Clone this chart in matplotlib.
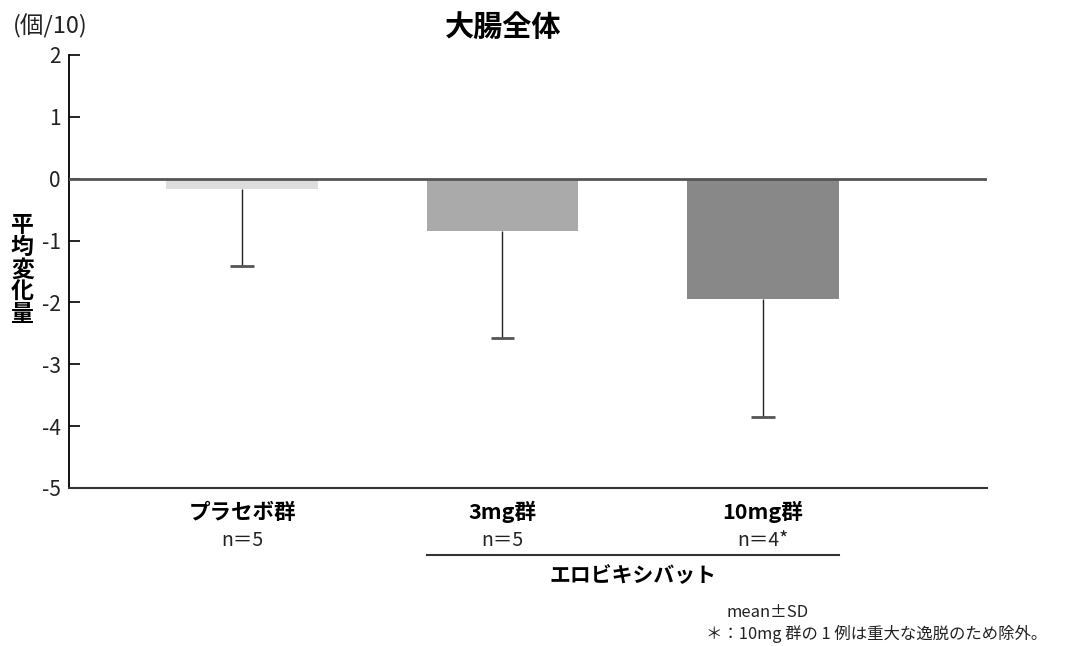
import matplotlib.pyplot as plt

plt.rcParams['font.family'] = ['Noto Sans CJK JP', 'DejaVu Sans']

groups = ['プラセボ群', '3mg群', '10mg群']
n_labels = ['n＝5', 'n＝5', 'n＝4*']
means = [-0.16, -0.84, -1.94]
sds = [1.25, 1.73, 1.91]
colors = ['#dddddd', '#aaaaaa', '#888888']
yticks = [2, 1, 0, -1, -2, -3, -4, -5]

fig = plt.figure(figsize=(10.68, 6.46), dpi=100)
ax = fig.add_axes([0.0646, 0.2446, 0.8596, 0.6703])

x = list(range(len(groups)))
ax.bar(x, means, width=0.58, color=colors, zorder=2)
# SD drawn only below the bar, cap only at the lower end
lower = [m - s for m, s in zip(means, sds)]
ax.vlines(x, lower, means, color='#222222', lw=1, zorder=3)
ax.hlines(lower, [i - 0.046 for i in x], [i + 0.046 for i in x],
          color='#555555', lw=2, zorder=3)
ax.axhline(0, color='#555555', lw=2, zorder=4)

ax.set_xlim(-0.664, 2.86)
ax.set_ylim(-5, 2)
ax.set_yticks(yticks)
ax.set_yticklabels([str(v) for v in yticks], fontsize=15, color='#222222')
ax.tick_params(axis='y', direction='in', length=8, width=1.2, pad=6)
ax.set_xticks([])
for s in ['top', 'right']:
    ax.spines[s].set_visible(False)
ax.spines['left'].set_linewidth(1.3)
ax.spines['bottom'].set_linewidth(1.5)
ax.spines['bottom'].set_color('#333333')

# group labels
for i, (g, n) in enumerate(zip(groups, n_labels)):
    ax.text(i, -5.39, g, ha='center', va='center', fontsize=15.5,
            fontweight='bold', clip_on=False)
    ax.text(i, -5.85, n, ha='center', va='center', fontsize=14,
            color='#222222', clip_on=False)

# drug bracket
ax.plot([1 - 0.29, 2 + 0.29], [-6.09, -6.09], color='#333333', lw=1.5,
        clip_on=False)
ax.text(1.5, -6.42, 'エロビキシバット', ha='center', va='center', fontsize=15,
        fontweight='bold', clip_on=False)

fig.text(0.471, 0.957, '大腸全体', ha='center', va='center', fontsize=21,
         fontweight='bold')
fig.text(0.012, 0.96, '(個/10)', ha='left', va='center', fontsize=17,
         color='#222222')
fig.text(0.021, 0.582, '平\n均\n変\n化\n量', ha='center', va='center',
         fontsize=16.5, fontweight='bold', linespacing=0.95)

fig.text(0.68, 0.052, 'mean±SD', ha='left', va='center', fontsize=12,
         color='#222222')
fig.text(0.661, 0.018, '＊：10mg 群の 1 例は重大な逸脱のため除外。', ha='left',
         va='center', fontsize=11.8, color='#222222')

fig.savefig('out.png', dpi=100)
